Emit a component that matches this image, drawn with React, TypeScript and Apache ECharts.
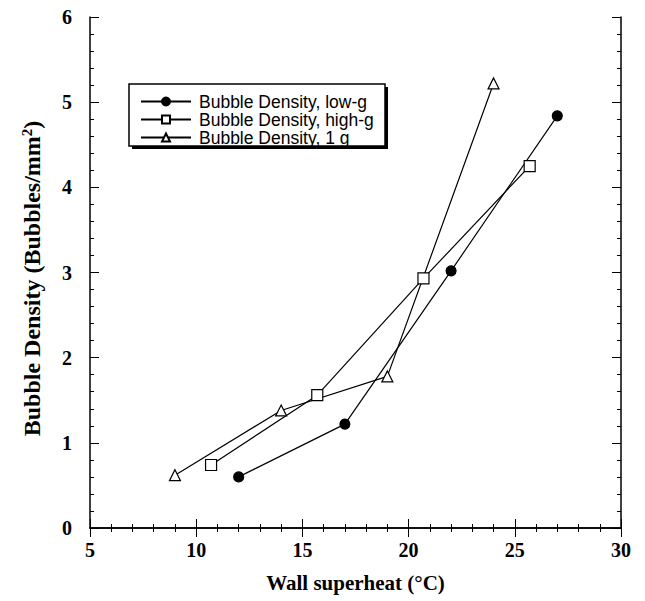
import React, { useEffect, useRef } from "react";
import * as echarts from "echarts";

const seriesNames = ["Bubble Density, low-g", "Bubble Density, high-g", "Bubble Density, 1 g"];
const lowG: number[][] = [[12, 0.6], [17, 1.22], [22, 3.02], [27, 4.84]];
const highG: number[][] = [[10.7, 0.74], [15.7, 1.56], [20.7, 2.93], [25.7, 4.25]];
const oneG: number[][] = [[9, 0.62], [14, 1.38], [19, 1.78], [24, 5.22]];
const xTitle = "Wall superheat (°C)";
const yTitle = "Bubble Density (Bubbles/mm{sup|2})";

const serif = "Liberation Serif";
const sans = "Liberation Sans";

export default function App() {
  const ref = useRef<HTMLDivElement>(null);
  useEffect(() => {
    if (!ref.current) return;
    const chart = echarts.init(ref.current, undefined, { renderer: "svg" });
    const axisCommon = {
      axisLine: { show: true, lineStyle: { color: "#000", width: 1.5 } },
      axisTick: { show: true, inside: true, length: 9, lineStyle: { color: "#000", width: 1 } },
      minorTick: { show: true, splitNumber: 5, length: 4, lineStyle: { color: "#000", width: 1 } },
      splitLine: { show: false },
    };
    const xBase = { type: "value", min: 5, max: 30, interval: 5 };
    const yBase = { type: "value", min: 0, max: 6, interval: 1 };
    const lineSeries = (name: string, data: number[][], symbol: string, size: number, filled: boolean) => ({
      name,
      type: "line",
      data,
      symbol,
      symbolSize: size,
      showSymbol: true,
      lineStyle: { color: "#000", width: 1.2 },
      itemStyle: { color: filled ? "#000" : "#fff", borderColor: "#000", borderWidth: 1.2 },
      emphasis: { disabled: true },
      z: 3,
    });
    chart.setOption({
      animation: false,
      backgroundColor: "#fff",
      grid: { left: 90, right: 24, top: 17, bottom: 73, containLabel: false },
      xAxis: [
        {
          ...xBase,
          ...axisCommon,
          position: "bottom",
          name: xTitle,
          nameLocation: "middle",
          nameGap: 44,
          nameTextStyle: { fontFamily: serif, fontWeight: "bold", fontSize: 21, color: "#000" },
          axisLabel: { fontFamily: serif, fontWeight: "bold", fontSize: 20, color: "#000", margin: 12 },
        },
        {
          ...xBase,
          ...axisCommon,
          position: "top",
          axisLabel: { show: false },
        },
      ],
      yAxis: [
        {
          ...yBase,
          ...axisCommon,
          position: "left",
          name: yTitle,
          nameLocation: "middle",
          nameGap: 45,
          nameRotate: 90,
          nameTextStyle: {
            fontFamily: serif,
            fontWeight: "bold",
            fontSize: 24,
            color: "#000",
            padding: [0, 12, 0, 0],
            rich: {
              sup: { fontFamily: serif, fontWeight: "bold", fontSize: 15, color: "#000", verticalAlign: "top", padding: [0, 0, 11, 0] },
            },
          },
          axisLabel: { fontFamily: serif, fontWeight: "bold", fontSize: 20, color: "#000", margin: 18 },
        },
        {
          ...yBase,
          ...axisCommon,
          position: "right",
          axisLabel: { show: false },
        },
      ],
      legend: {
        orient: "vertical",
        left: 140,
        top: 92.5,
        itemWidth: 50,
        itemHeight: 10,
        itemGap: 0,
        padding: 0,
        data: seriesNames,
        textStyle: { fontFamily: sans, fontSize: 17.5, color: "#000", lineHeight: 15, padding: [0, 0, 0, 3] },
        selectedMode: false,
      },
      graphic: [
        { type: "rect", shape: { x: 132, y: 87, width: 256, height: 62 }, style: { fill: "#000" }, z: 0 },
        { type: "rect", shape: { x: 129, y: 84, width: 256, height: 62 }, style: { fill: "#fff", stroke: "#000", lineWidth: 1.5 }, z: 1 },
      ],
      series: [
        lineSeries(seriesNames[0], lowG, "circle", 10, true),
        lineSeries(seriesNames[1], highG, "rect", 11, false),
        lineSeries(seriesNames[2], oneG, "triangle", 11, false),
      ],
    });
    return () => chart.dispose();
  }, []);
  return <div ref={ref} style={{ position: "absolute", left: 0, top: 0, width: 645, height: 601 }} />;
}
